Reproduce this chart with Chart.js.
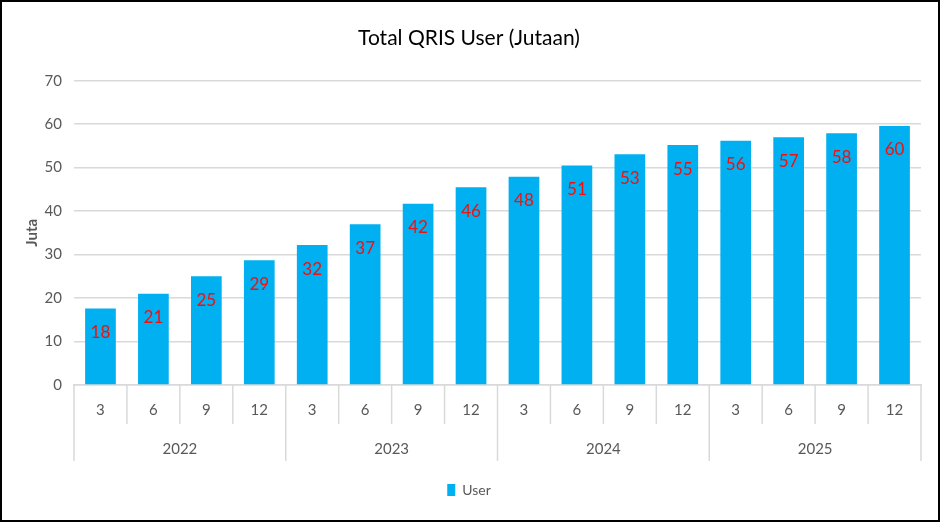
<!DOCTYPE html>
<html>
<head>
<meta charset="utf-8">
<script src="https://cdn.jsdelivr.net/npm/chart.js@4.4.1/dist/chart.umd.min.js"></script>
<style>
  html, body { margin: 0; padding: 0; background: #fff; }
  #wrap { width: 940px; height: 522px; box-sizing: border-box; border: 2px solid #000; position: relative; }
  canvas { display: block; }
</style>
</head>
<body>
<div id="wrap"><canvas id="c" width="936" height="518"></canvas></div>
<script>
const months = ['3','6','9','12','3','6','9','12','3','6','9','12','3','6','9','12'];
const years = ['2022','2023','2024','2025'];
const userValues = [17.6, 21.0, 25.0, 28.7, 32.2, 37.0, 41.7, 45.5, 47.9, 50.5, 53.1, 55.2, 56.2, 57.0, 57.9, 59.6];
const seriesName = 'User';
const chartTitle = 'Total QRIS User (Jutaan)';
const yTitle = 'Juta';

const FONT = "Lato, 'Open Sans', sans-serif";
const GRID = '#d9d9d9';
const TXT = '#595959';

const valueLabels = {
  id: 'valueLabels',
  afterDatasetsDraw(chart) {
    const ctx = chart.ctx;
    const meta = chart.getDatasetMeta(0);
    ctx.save();
    ctx.fillStyle = '#ee1111';
    ctx.font = "17px " + FONT;
    ctx.textAlign = 'center';
    ctx.textBaseline = 'middle';
    meta.data.forEach((bar, i) => {
      const v = chart.data.datasets[0].data[i];
      ctx.fillText(String(Math.round(v)), bar.x, bar.y + 24);
    });
    ctx.restore();
  }
};

// separators of the two-level category axis, positioned from the scales
const axisSeparators = {
  id: 'axisSeparators',
  afterDraw(chart) {
    const xs = chart.scales.x, ys = chart.scales.x2;
    const n = xs.ticks.length;
    const per = n / ys.ticks.length;
    const ctx = chart.ctx;
    ctx.save();
    ctx.strokeStyle = GRID;
    ctx.lineWidth = 1.5;
    for (let i = 0; i <= n; i++) {
      const x = i === 0 ? xs.left : i === n ? xs.right
        : (xs.getPixelForValue(i - 1) + xs.getPixelForValue(i)) / 2;
      const bottom = (i % per === 0) ? ys.bottom : xs.bottom;
      ctx.beginPath();
      ctx.moveTo(x, xs.top);
      ctx.lineTo(x, bottom);
      ctx.stroke();
    }
    ctx.restore();
  }
};

new Chart(document.getElementById('c'), {
  type: 'bar',
  data: {
    labels: months,
    datasets: [{
      label: seriesName,
      data: userValues,
      backgroundColor: '#00b0f0',
      borderWidth: 0,
      categoryPercentage: 1,
      barPercentage: 0.58
    }]
  },
  options: {
    responsive: false,
    animation: false,
    layout: { padding: { left: 15, right: 17, top: 0, bottom: 13 } },
    plugins: {
      title: {
        display: true,
        text: chartTitle,
        color: '#000',
        font: { family: FONT, size: 21, weight: 'normal', lineHeight: 1.2 },
        padding: { top: 23.5, bottom: 30 }
      },
      legend: {
        display: true,
        position: 'bottom',
        labels: {
          color: TXT,
          font: { family: FONT, size: 14 },
          boxWidth: 8,
          boxHeight: 12,
          padding: 22
        }
      },
      tooltip: { enabled: false }
    },
    scales: {
      y: {
        min: 0, max: 70,
        afterFit(scale) { scale.width = 57; },
        ticks: { stepSize: 10, color: TXT, font: { family: FONT, size: 15 }, padding: 12 },
        grid: { color: GRID, lineWidth: 1.5, drawTicks: false },
        border: { display: false },
        title: { display: true, text: yTitle, color: TXT, font: { family: FONT, size: 15, weight: 'bold' }, padding: { top: 6, bottom: 5 } }
      },
      x: {
        offset: true,
        afterFit(scale) { scale.height = 39; },
        ticks: { color: TXT, font: { family: FONT, size: 15, lineHeight: 1.75 }, padding: 12, maxRotation: 0, autoSkip: false },
        grid: { offset: true, drawOnChartArea: false, drawTicks: false, color: GRID },
        border: { display: true, color: GRID, width: 1.5 }
      },
      x2: {
        type: 'category',
        labels: years,
        position: 'bottom',
        offset: true,
        afterFit(scale) { scale.height = 37; },
        ticks: { color: TXT, font: { family: FONT, size: 15, lineHeight: 1.75 }, padding: 12, maxRotation: 0, autoSkip: false },
        grid: { display: true, drawOnChartArea: false, drawTicks: false, lineWidth: 0 },
        border: { display: false }
      }
    }
  },
  plugins: [valueLabels, axisSeparators]
});
</script>
</body>
</html>
